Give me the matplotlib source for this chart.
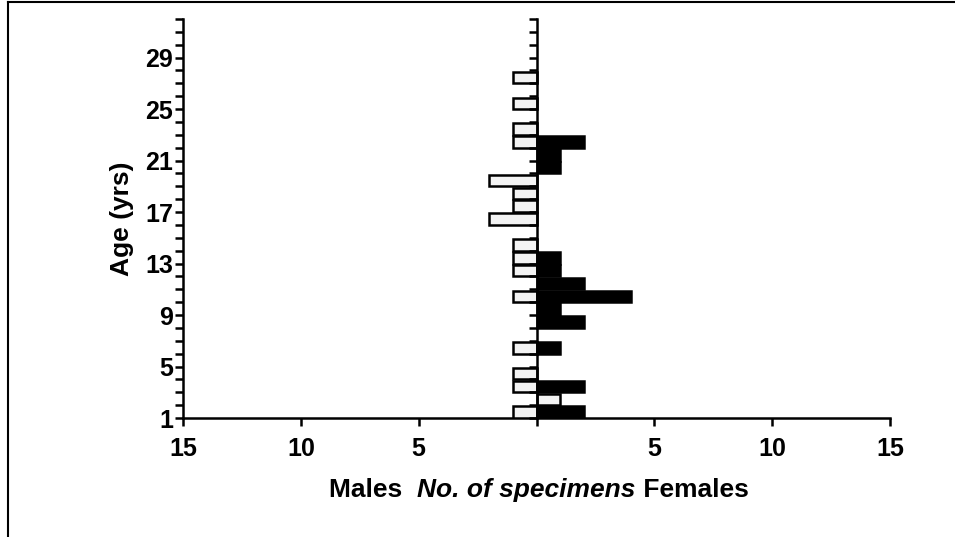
import numpy as np
import matplotlib
matplotlib.use("Agg")
import matplotlib.pyplot as plt
from matplotlib.lines import Line2D

plt.rcParams['font.family'] = ['Liberation Sans', 'DejaVu Sans']
plt.rcParams['font.weight'] = 'bold'

# datos
male_ages = [1, 3, 4, 6, 10, 12, 13, 14, 16, 17, 18, 19, 22, 23, 25, 27]
male_counts = [1, 1, 1, 1, 1, 1, 1, 1, 2, 1, 1, 2, 1, 1, 1, 1]
female_ages = [1, 3, 6, 8, 9, 10, 11, 12, 13, 20, 21, 22]
female_counts = [2, 2, 1, 2, 1, 4, 2, 1, 1, 1, 1, 2]
# barra blanca del lado derecho (edad 2)
right_white_ages = [2]
right_white_counts = [1]

x_ticks = [-15, -10, -5, 0, 5, 10, 15]
y_labels = [1, 5, 9, 13, 17, 21, 25, 29]

fig = plt.figure(figsize=(9.55, 5.37), dpi=100)
ax = fig.add_axes([0.1916, 0.2216, 0.7404, 0.743])

ax.barh(male_ages, -np.array(male_counts), height=0.9, align='edge',
        color='#f3f3f3', edgecolor='black', linewidth=1.8, zorder=3)
ax.barh(female_ages, female_counts, height=0.9, align='edge',
        color='black', edgecolor='black', linewidth=1.8, zorder=3)
ax.barh(right_white_ages, right_white_counts, height=0.9, align='edge',
        color='#f3f3f3', edgecolor='black', linewidth=1.8, zorder=3)

ax.set_xlim(-15, 15)
ax.set_ylim(1, 32)
ax.spines['top'].set_visible(False)
ax.spines['right'].set_visible(False)
ax.spines['left'].set_linewidth(1.8)
ax.spines['bottom'].set_linewidth(1.8)

ax.set_xticks(x_ticks)
ax.set_xticklabels([str(abs(v)) if v != 0 else '' for v in x_ticks])
ax.set_yticks(y_labels)
ax.set_yticks(np.arange(1, 33), minor=True)
ax.tick_params(axis='both', which='both', direction='out', length=6, width=1.8,
               labelsize=18)
ax.tick_params(axis='x', pad=8)
ax.tick_params(axis='y', pad=1)
for lab in ax.get_xticklabels() + ax.get_yticklabels():
    lab.set_fontweight('bold')

# eje central con marcas
ax2 = fig.add_axes(ax.get_position(), sharey=ax, facecolor='none')
ax2.set_xlim(-15, 15)
for s in ['top', 'right', 'bottom']:
    ax2.spines[s].set_visible(False)
ax2.spines['left'].set_position(('data', 0))
ax2.spines['left'].set_linewidth(1.8)
ax2.spines['left'].set_zorder(4)
ax2.set_xticks([])
ax2.tick_params(axis='y', which='both', direction='out', length=6, width=1.8,
                labelleft=False)

ax.set_ylabel('Age (yrs)', fontsize=19, fontweight='bold', labelpad=8)

# etiqueta del eje x en tres partes
t1 = fig.text(0.345, 0.075, 'Males  ', fontsize=19, fontweight='bold', va='baseline')
t2 = ax.annotate('No. of specimens', xycoords=t1, xy=(1, 0), va='bottom',
                 fontsize=19, fontweight='bold', style='italic')
t3 = ax.annotate(' Females', xycoords=t2, xy=(1, 0), va='bottom',
                 fontsize=19, fontweight='bold')

# marco
fig.add_artist(Line2D([0.008, 1], [0.996, 0.996], color='black', lw=1.5,
                      transform=fig.transFigure))
fig.add_artist(Line2D([0.008, 0.008], [0, 0.996], color='black', lw=1.5,
                      transform=fig.transFigure))

plt.savefig('out.png', dpi=100)
